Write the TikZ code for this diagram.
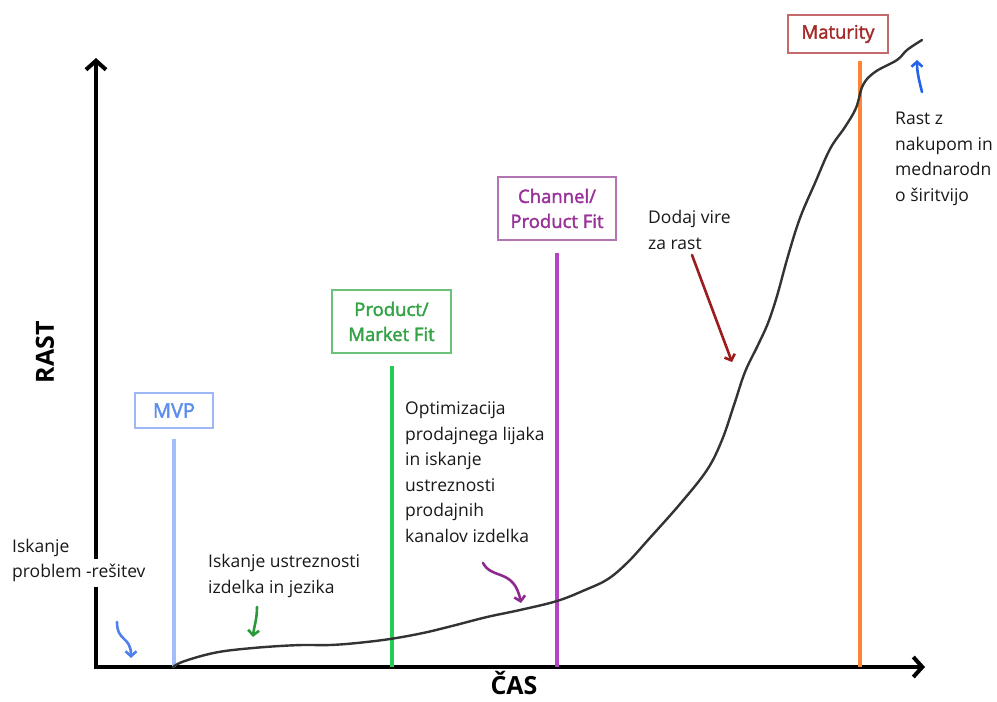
\documentclass[tikz,border=0pt]{standalone}
\usepackage{fontspec}
\setmainfont{Open Sans}
\newfontfamily\semib[FakeBold=2]{Open Sans}
\newfontfamily\boldf{Open Sans Bold}
\usetikzlibrary{arrows.meta,calc}
\definecolor{mvpblue}{HTML}{5B8DEF}
\definecolor{mvpborder}{HTML}{9DB9F5}
\definecolor{mvpline}{HTML}{A3BDF8}
\definecolor{pmfgreen}{HTML}{33A345}
\definecolor{pmfborder}{HTML}{6DC27A}
\definecolor{pmfline}{HTML}{22CC55}
\definecolor{cpfpurple}{HTML}{993399}
\definecolor{cpfborder}{HTML}{B374B3}
\definecolor{cpfline}{HTML}{B444C4}
\definecolor{matred}{HTML}{A52A2A}
\definecolor{matborder}{HTML}{C46A6A}
\definecolor{matline}{HTML}{FF8534}
\definecolor{curvegray}{HTML}{333333}
\definecolor{arrblue}{HTML}{4F80EE}
\definecolor{arrgreen}{HTML}{2A9A3A}
\definecolor{arrpurple}{HTML}{8E2A8E}
\definecolor{arrred}{HTML}{9B1C1C}
\definecolor{arrblue2}{HTML}{2563EB}
\begin{document}
\begin{tikzpicture}[x=1pt,y=-1pt,
  axis/.style={line width=4pt,-{Straight Barb[length=9pt,width=20pt]}},
  box/.style={draw,line width=1.2pt,align=center,inner sep=0pt,
    font=\semib\fontsize{18.5}{25}\selectfont},
  phase/.style={line width=4pt},
  note/.style={align=left,inner sep=0pt,anchor=west,text=black!90,
    font=\fontsize{17.5}{25.5}\selectfont},
  hand/.style={line width=2.6pt,line cap=round,-{Straight Barb[length=5pt,width=11pt]}},
  axlabel/.style={font=\boldf\fontsize{25}{30}\selectfont,inner sep=0pt}
]
\useasboundingbox (0,0) rectangle (997,702);
\fill[white] (0,0) rectangle (997,702);

% axes
\coordinate (o) at (96,667);
\coordinate (ytip) at (96,58);
\coordinate (xtip) at (925,667);
\draw[axis] ($(o)+(0,2)$) -- (ytip);
\draw[axis] ($(o)+(-2,0)$) -- (xtip);

% boxes
\node[box,draw=mvpborder,text=mvpblue,minimum width=78pt,minimum height=35pt,
  font=\semib\fontsize{20}{25}\selectfont] (mvp) at (174,410.5) {MVP};
\node[box,draw=pmfborder,text=pmfgreen,minimum width=119pt,minimum height=63pt] (pmf) at (391.5,321.5) {Product/\\Market Fit};
\node[box,draw=cpfborder,text=cpfpurple,minimum width=118pt,minimum height=63pt] (cpf) at (557,208.5) {Channel/\\Product Fit};
\node[box,draw=matborder,text=matred,minimum width=100pt,minimum height=38pt] (mat) at (838,34) {Maturity};

% phase lines
\draw[phase,mvpline] ($(mvp.south)+(0,10)$) -- (mvp.south |- o);
\draw[phase,pmfline] ($(pmf.south)+(0,12)$) -- (pmf.south |- o);
\draw[phase,cpfline] ($(cpf.south)+(0,12)$) -- (cpf.south |- o);
\draw[phase,matline] ($(mat.south)+(22,7)$) -- ($(mat.south |- o)+(22,0)$);

% growth curve
\draw[curvegray,line width=2.4pt,line cap=round,line join=round]
  plot[smooth,tension=0.6] coordinates {
  (173,667) (182,662) (205,655) (225,651) (253,648) (280,646) (303,645)
  (330,645) (357,643) (390,639) (423,633) (452,626) (487,617)
  (520,610) (557,601) (585,590) (608,579) (628,562) (648,540) (680,504) (707,470)
  (722,440) (734,405) (745,372) (758,345) (768,323) (777,296) (788,256)
  (800,218) (815,183) (830,149) (845,127) (856,108) (863,85) (875,72)
  (897,60) (907,50) (922,40)};

% texts
\node[note] (t1a) at (12,548) {Iskanje};
\node[note,fill=white,inner ysep=5pt] (t1b) at (12,573) {problem -rešitev};
\node[note] (t2) at (208,576) {Iskanje ustreznosti\\izdelka in jezika};
\node[note] (t3) at (405,472) {Optimizacija\\prodajnega lijaka\\in iskanje\\ustreznosti\\prodajnih\\kanalov izdelka};
\node[note] (t4) at (648,230) {Dodaj vire\\za rast};
\node[note] (t5) at (895,159) {Rast z\\nakupom in\\mednarodn\\o širitvijo};

% axis labels
\node[axlabel,rotate=90] (rast) at (45,352) {RAST};
\node[axlabel] (cas) at (514,683) {ČAS};

% hand arrows
\coordinate (a1s) at (117,622); \coordinate (a1e) at (131,658);
\draw[hand,arrblue] (a1s) .. controls (117,642) and (131,636) .. (a1e);
\coordinate (a2s) at (257,607); \coordinate (a2e) at (253,637);
\draw[hand,arrgreen] (a2s) .. controls (257,620) and (254,626) .. (a2e);
\coordinate (a3s) at (483,563); \coordinate (a3e) at (521,603);
\draw[hand,arrpurple] (a3s) .. controls (492,580) and (514,568) .. (a3e);
\coordinate (a4s) at (692,255); \coordinate (a4e) at (732,362);
\draw[hand,arrred] (a4s) -- (a4e);
\coordinate (a5s) at (922,92); \coordinate (a5e) at (917,60);
\draw[hand,arrblue2] (a5s) .. controls (919,80) and (917,72) .. (a5e);
\end{tikzpicture}
\end{document}
